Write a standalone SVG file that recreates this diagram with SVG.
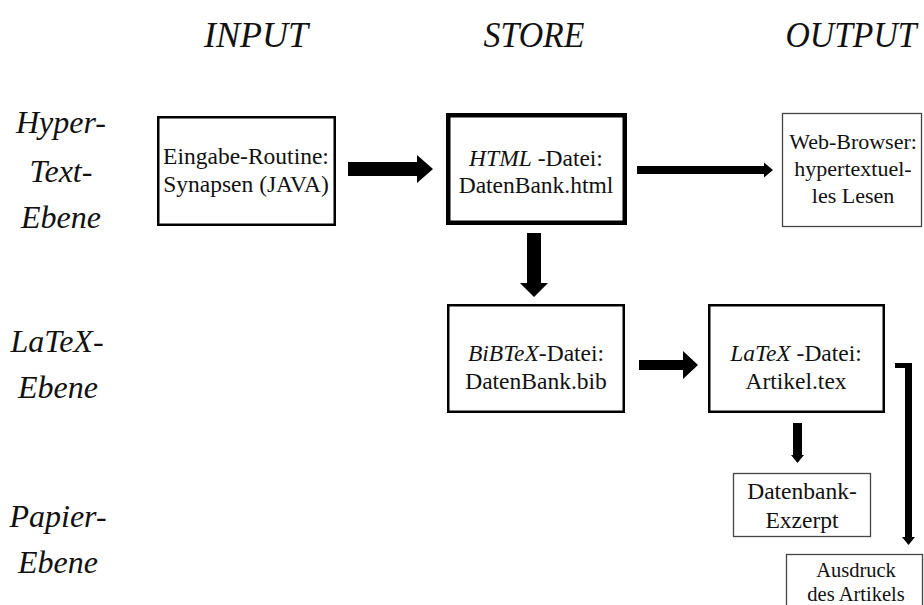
<svg xmlns="http://www.w3.org/2000/svg" width="924" height="605" viewBox="0 0 924 605">
<style>
text{font-family:"Liberation Serif","Times New Roman",serif;fill:#111}
.hd{font-size:36px;font-style:italic;text-anchor:middle}
.lv{font-size:32px;font-style:italic;text-anchor:middle}
.nt{font-size:23.5px;text-anchor:middle}
.sm{font-size:22px}
.xs{font-size:20.5px}
.it{font-style:italic}
.b2{fill:#fff;stroke:#000;stroke-width:2.5}
.b4{fill:#fff;stroke:#000;stroke-width:4.5}
.b1{fill:#fff;stroke:#444;stroke-width:1.3}
.arr{fill:#000;stroke:none}
</style>
<rect width="924" height="605" fill="#fff"/>
<g id="headers">
<text class="hd" x="256" y="47">INPUT</text>
<text class="hd" x="534" y="47" textLength="101" lengthAdjust="spacingAndGlyphs">STORE</text>
<text class="hd" x="851" y="47" textLength="131" lengthAdjust="spacingAndGlyphs">OUTPUT</text>
</g>
<g id="levels">
<text class="lv" x="61" y="133">Hyper-</text>
<text class="lv" x="61" y="182">Text-</text>
<text class="lv" x="61" y="228">Ebene</text>
<text class="lv" x="57" y="352">LaTeX-</text>
<text class="lv" x="58" y="398">Ebene</text>
<text class="lv" x="58" y="527">Papier-</text>
<text class="lv" x="58" y="573">Ebene</text>
</g>
<g id="connectors">
<polygon class="arr" points="348,162 417,162 417,155 433,169 417,183 417,176 348,176"/>
<polygon class="arr" points="637,166 764,166 764,162.5 773,170 764,177.5 764,174 637,174"/>
<polygon class="arr" points="527,233 541,233 541,283 548,283 534,297 520,283 527,283"/>
<polygon class="arr" points="639,360 683,360 683,351 698,365 683,379 683,370 639,370"/>
<polygon class="arr" points="793,423 802,423 802,455 804,455 797.5,463 791,455 793,455"/>
<polygon class="arr" points="895,363 912,363 912,537 915,537 908.5,545 902,537 905,537 905,368 895,368"/>
</g>
<g id="eingabe">
<rect class="b2" x="158.25" y="117.25" width="176.5" height="107.5"/>
<text class="nt" x="246" y="164">Eingabe-Routine:</text>
<text class="nt" x="246" y="192">Synapsen (JAVA)</text>
</g>
<g id="html">
<rect class="b4" x="448.25" y="115.25" width="176.5" height="107.5"/>
<text class="nt" x="536" y="166"><tspan class="it">HTML</tspan> -Datei:</text>
<text class="nt" x="536" y="193">DatenBank.html</text>
</g>
<g id="browser">
<rect class="b1" x="782.5" y="113.5" width="139" height="113"/>
<text class="nt sm" x="853" y="149">Web-Browser:</text>
<text class="nt sm" x="853" y="176">hypertextuel-</text>
<text class="nt sm" x="853" y="203">les Lesen</text>
</g>
<g id="bibtex">
<rect class="b2" x="448.25" y="305.25" width="175.5" height="106.5"/>
<text class="nt" x="536" y="361"><tspan class="it">BiBTeX</tspan>-Datei:</text>
<text class="nt" x="536" y="389">DatenBank.bib</text>
</g>
<g id="latex">
<rect class="b2" x="709.25" y="305.25" width="174.5" height="106.5"/>
<text class="nt" x="796" y="361"><tspan class="it">LaTeX</tspan> -Datei:</text>
<text class="nt" x="796" y="389">Artikel.tex</text>
</g>
<g id="exzerpt">
<rect class="b1" x="733.5" y="473.5" width="137" height="63"/>
<text class="nt" x="802" y="499">Datenbank-</text>
<text class="nt" x="802" y="528">Exzerpt</text>
</g>
<g id="ausdruck">
<rect class="b1" x="786.5" y="554.5" width="136" height="60"/>
<text class="nt xs" x="856" y="577">Ausdruck</text>
<text class="nt xs" x="856" y="601">des Artikels</text>
</g>
</svg>
